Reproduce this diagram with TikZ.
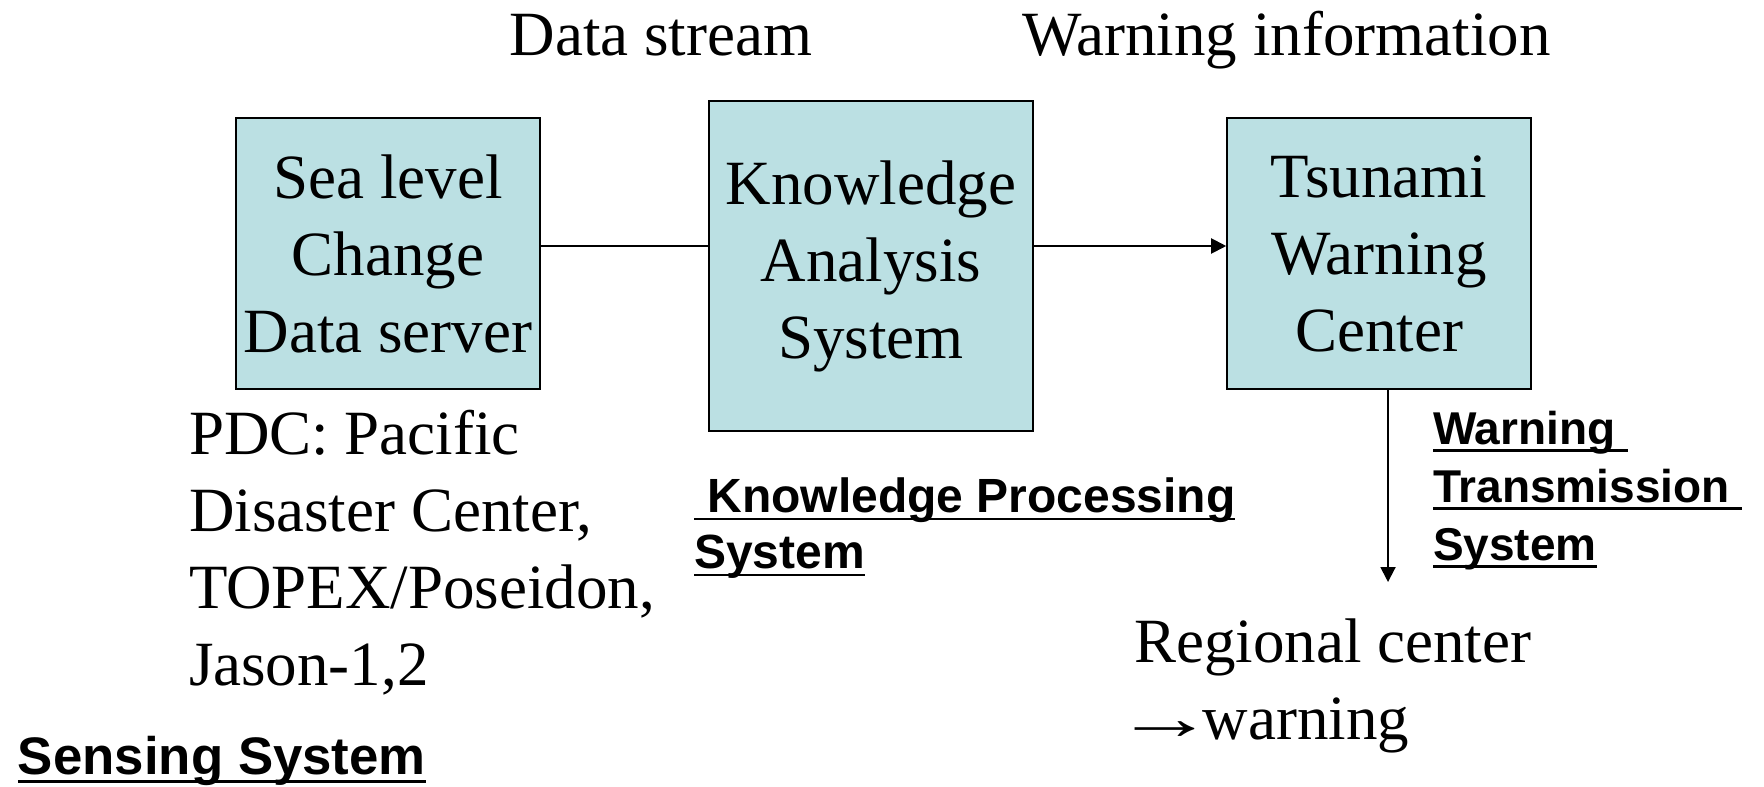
\documentclass[tikz,border=0pt]{standalone}
\usepackage{fontspec}
\setmainfont{Liberation Serif}
\setsansfont{Liberation Sans}
\usepackage{graphicx}
\usepackage{tikz}
\usetikzlibrary{arrows.meta, positioning}

\definecolor{boxfill}{HTML}{BBE0E3}
\newcommand{\bigtext}{\fontsize{31.5}{38.5}\selectfont}
\newcommand{\systext}[2]{\fontsize{#1}{#2}\selectfont\sffamily\bfseries}
% underline at a fixed depth, so it runs through descenders
\newsavebox{\undlbox}
\newcommand{\undl}[1]{\sbox{\undlbox}{#1}\rlap{\vrule width \wd\undlbox height -0.1em depth 0.16em}\usebox{\undlbox}}
\newcommand{\toarrow}{\hspace*{-10pt}\scalebox{1.6}[1]{\char"2192}\hspace*{-6pt}}

\begin{document}
\begin{tikzpicture}[x=0.5pt, y=-0.5pt, line width=1pt,
    box/.style={draw, line width=0.8pt, fill=boxfill, inner sep=0pt, align=center, font=\bigtext},
    lbl/.style={inner sep=0pt, font=\bigtext},
    sys/.style={inner sep=0pt, align=left},
    >={Triangle[length=7.5pt, width=7.5pt]}]
        \useasboundingbox (0,0) rectangle (1764,786);
        % boxes
        \node[box, minimum width=152pt, minimum height=135.5pt] (sea) at (388,253.5) {Sea level\\Change\\Data server};
        \node[box, minimum width=162pt, minimum height=165pt] (kas) at (871,266) {Knowledge\\Analysis\\System};
        \node[box, minimum width=152pt, minimum height=135.5pt] (twc) at (1379,253.5) {Tsunami\\Warning\\Center};
        % links
        \draw (sea.east |- 0,246) -- (kas.west |- 0,246);
        \draw[->] (kas.east |- 0,246) -- (twc.west |- 0,246);
        \coordinate (out) at (1388,582);
        \draw[->] (twc.south -| out) -- (out);
        % labels on top
        \node[lbl, anchor=north] (stream) at (661,13) {Data stream};
        \node[lbl, anchor=north west] (warninfo) at (1021,10) {Warning information};
        % sources and output
        \node[lbl, anchor=north west, align=left] (pdc) at (188,409) {PDC: Pacific\\Disaster Center,\\TOPEX/Poseidon,\\Jason-1,2};
        \node[lbl, anchor=north west, align=left] (region) at (1133,618) {Regional center\\\toarrow warning};
        % subsystems
        \node[sys, anchor=north west, font=\systext{24}{28}] (kps) at (693,477) {\undl{\ Knowledge Processing}\\\undl{System}};
        \node[sys, anchor=north west, font=\systext{23}{29}] (wts) at (1432,410) {\undl{Warning\ }\\\undl{Transmission\ }\\\undl{System}};
        \node[sys, anchor=north west, font=\systext{26.4}{32}] (sens) at (17,735) {\undl{Sensing System}};
    \end{tikzpicture}
\end{document}
